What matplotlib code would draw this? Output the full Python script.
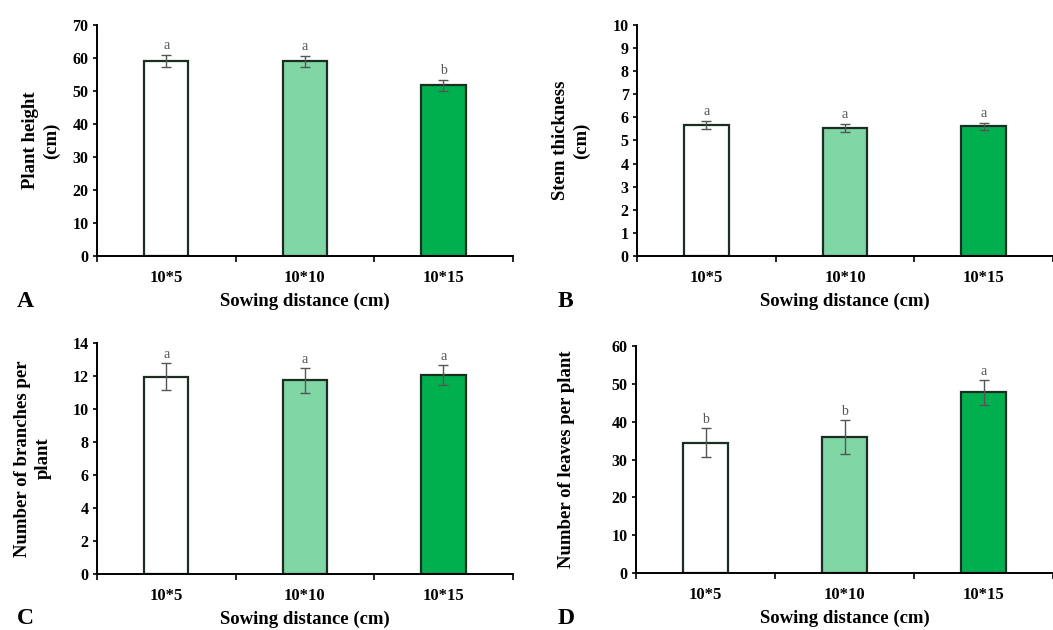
import numpy as np
import matplotlib.pyplot as plt

# === DATA ===
categories = ['10*5', '10*10', '10*15']
bar_colors = ['#ffffff', '#80d6a4', '#00b04f']

height_mean = [59.2, 59.0, 51.8]
height_err = [1.9, 1.8, 1.7]
height_letters = ['a', 'a', 'b']

stem_mean = [5.68, 5.55, 5.62]
stem_err = [0.18, 0.18, 0.15]
stem_letters = ['a', 'a', 'a']

branch_mean = [11.95, 11.73, 12.04]
branch_err = [0.8, 0.75, 0.6]
branch_letters = ['a', 'a', 'a']

leaves_mean = [34.5, 36.0, 47.7]
leaves_err = [3.8, 4.4, 3.2]
leaves_letters = ['b', 'b', 'a']

plt.rcParams['font.family'] = ['Liberation Serif', 'DejaVu Serif']
plt.rcParams['font.weight'] = 'bold'

fig = plt.figure(figsize=(10.53, 6.3), dpi=100)

panels = [
    # rect, mean, err, letters, ymax, ystep, ylabel, panel letter, letter pos, labelpad
    ([0.092, 0.594, 0.395, 0.366], height_mean, height_err, height_letters,
     70, 10, 'Plant height\n(cm)', 'A', (0.016, 0.512), 9),
    ([0.605, 0.594, 0.395, 0.366], stem_mean, stem_err, stem_letters,
     10, 1, 'Stem thickness\n(cm)', 'B', (0.530, 0.512), 16),
    ([0.092, 0.089, 0.395, 0.367], branch_mean, branch_err, branch_letters,
     14, 2, 'Number of branches per\nplant', 'C', (0.016, 0.010), 15),
    ([0.604, 0.090, 0.396, 0.361], leaves_mean, leaves_err, leaves_letters,
     60, 10, 'Number of leaves per plant', 'D', (0.530, 0.010), 26),
]

x = np.arange(len(categories))

for rect, mean, err, letters, ymax, ystep, ylabel, plabel, ppos, lpad in panels:
    ax = fig.add_axes(rect)
    ax.bar(x, mean, width=0.32, color=bar_colors, edgecolor='#1c2e24',
           linewidth=1.6, zorder=2)
    ax.errorbar(x, mean, yerr=err, fmt='none', ecolor='#555555',
                elinewidth=1.0, capsize=3.5, capthick=1.0, zorder=3)
    for xi, m, e, lt in zip(x, mean, err, letters):
        ax.text(xi, m + e + ymax * 0.01, lt, ha='center', va='bottom',
                fontsize=10, fontweight='normal', color='#555555')
    ax.set_xlim(-0.5, 2.5)
    ax.set_ylim(0, ymax)
    ax.set_yticks(np.arange(0, ymax + ystep / 2, ystep))
    ax.set_xticks(x)
    ax.set_xticklabels(categories)
    ax.set_xticks([-0.5, 0.5, 1.5, 2.5], minor=True)
    ax.tick_params(axis='x', which='major', length=0, pad=10, labelsize=12)
    ax.tick_params(axis='x', which='minor', length=4, width=1.2, direction='out')
    ax.tick_params(axis='y', length=3, width=1.2, labelsize=11.5, pad=3)
    for s in ['top', 'right']:
        ax.spines[s].set_visible(False)
    for s in ['left', 'bottom']:
        ax.spines[s].set_linewidth(1.4)
    ax.set_ylabel(ylabel, fontsize=13.5, fontweight='bold', labelpad=lpad,
                  linespacing=1.3)
    ax.set_xlabel('Sowing distance (cm)', fontsize=13.5, fontweight='bold',
                  labelpad=5)
    fig.text(ppos[0], ppos[1], plabel, fontsize=17, fontweight='bold')

fig.savefig('out.png', dpi=100)
